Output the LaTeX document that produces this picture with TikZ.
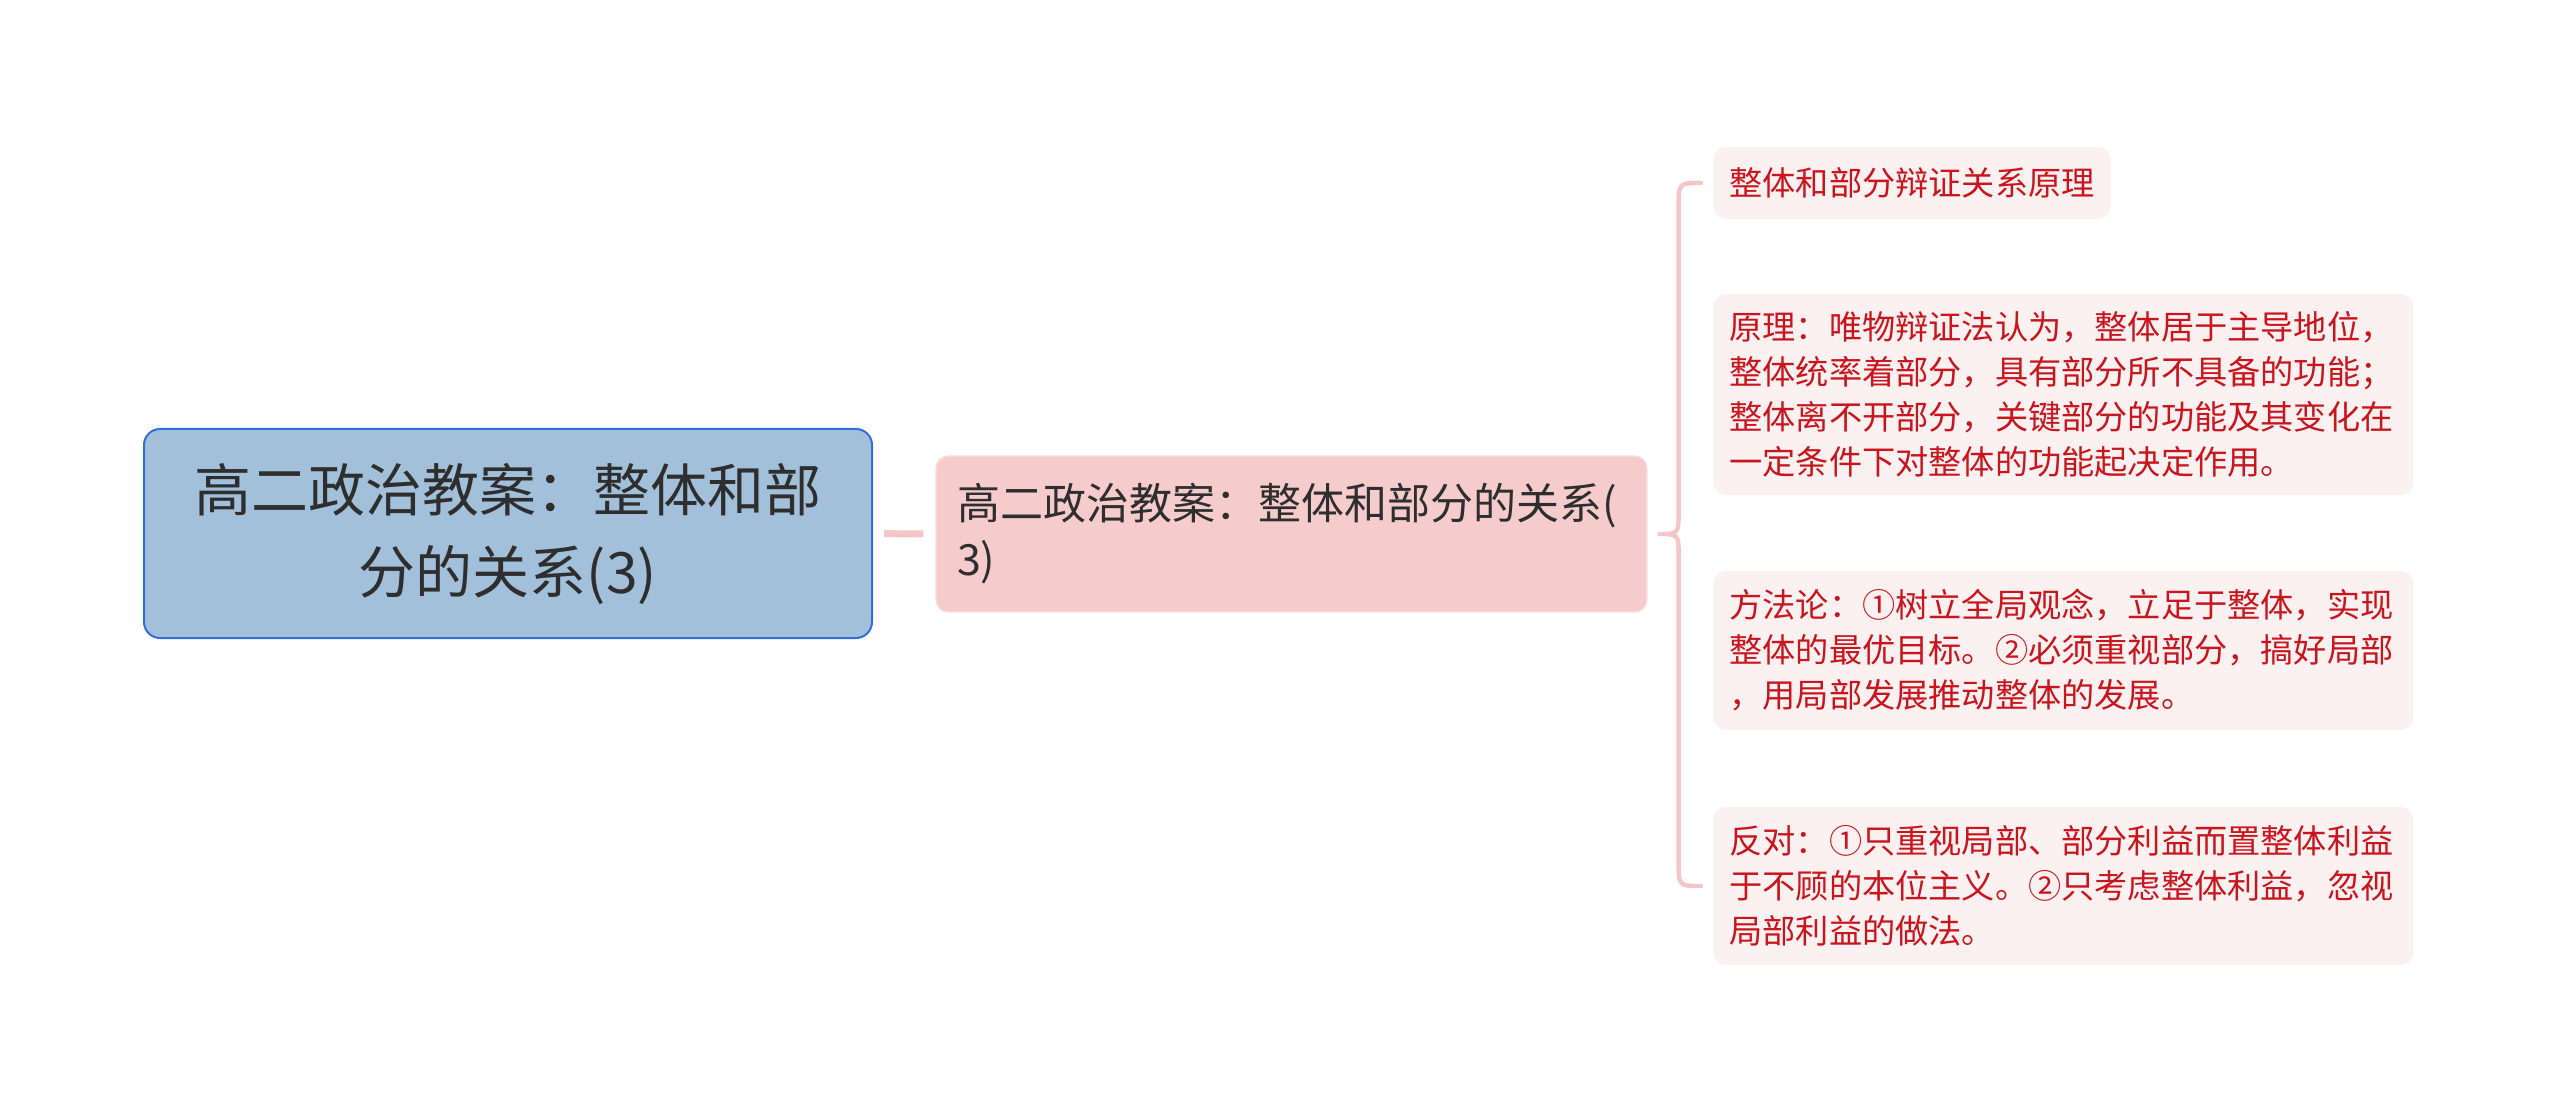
\documentclass[tikz,border=0pt]{standalone}
\usepackage{fontspec}
\setmainfont{Noto Sans CJK SC}
\usetikzlibrary{calc}
\definecolor{rootfill}{HTML}{A3C0DB}
\definecolor{rootline}{HTML}{2F6FD6}
\definecolor{midfill}{HTML}{F5CBCC}
\definecolor{midline}{HTML}{F8E1E1}
\definecolor{leaffill}{HTML}{FCF1F1}
\definecolor{leaftext}{HTML}{C9151E}
\definecolor{linkpink}{HTML}{F3C6C7}
\definecolor{darktext}{HTML}{2E2E2E}

\begin{document}
\begin{tikzpicture}[x=0.5pt,y=-0.5pt,
    rootbox/.style={draw=rootline,fill=rootfill,line width=1pt,rounded corners=8pt,
      minimum width=364pt,minimum height=104.5pt,align=center,text=darktext,font=\rootfontsize},
    midbox/.style={draw=midline,fill=midfill,line width=0.6pt,rounded corners=6pt,
      text width=334.5pt,inner xsep=10.5pt,minimum height=78pt,align=left,text=darktext,font=\midfontsize},
    leafbox/.style={fill=leaffill,rounded corners=6pt,inner xsep=8pt,anchor=west,
      align=left,text=leaftext,font=\leaffontsize},
    wideleaf/.style={leafbox,text width=334pt},
    link/.style={draw=linkpink,line width=3.5pt,shorten <=5.5pt,shorten >=6pt},
    bracket/.style={draw=linkpink,line width=2.2pt,line cap=round}]
    \providecommand{\rootfontsize}{\fontsize{28.5pt}{41pt}\selectfont}
    \providecommand{\midfontsize}{\fontsize{21.5pt}{28pt}\selectfont}
    \providecommand{\leaffontsize}{\fontsize{16.6pt}{22.5pt}\selectfont}
    \pgfmathsetmacro{\leafx}{1713}
    \useasboundingbox (0,0) rectangle (2560,1112);
    % main topic and its child
    \node[rootbox] (root) at (508,533.5) {高二政治教案：整体和部\\分的关系(3)};
    \node[midbox] (mid) at (1291.5,534) {高二政治教案：整体和部分的关系(\\3)};
    \draw[link] (root) -- (mid);
    % leaves
    \node[leafbox,minimum height=36pt] (principle) at (\leafx,183) {整体和部分辩证关系原理};
    \node[wideleaf,minimum height=100.5pt] (theory) at (\leafx,394.5) {原理：唯物辩证法认为，整体居于主导地位，\\整体统率着部分，具有部分所不具备的功能；\\整体离不开部分，关键部分的功能及其变化在\\一定条件下对整体的功能起决定作用。};
    \node[wideleaf,minimum height=79.5pt] (method) at (\leafx,650.5) {方法论：①树立全局观念，立足于整体，实现\\整体的最优目标。②必须重视部分，搞好局部\\，用局部发展推动整体的发展。};
    \node[wideleaf,minimum height=79pt] (oppose) at (\leafx,886) {反对：①只重视局部、部分利益而置整体利益\\于不顾的本位主义。②只考虑整体利益，忽视\\局部利益的做法。};
    % brace
    \coordinate (bracetip) at ($(mid.east)+(10,0)$);
    \coordinate (bv) at ($(bracetip)+(21,0)$);
    \coordinate (bracetop) at ($(principle.west)+(-12,0)$);
    \coordinate (bracebot) at ($(oppose.west)+(-12,0)$);
    \draw[bracket] (bracetop) .. controls (bracetop -| bv) .. ($(bracetop -| bv)+(0,25)$)
      -- ($(bv)+(0,-22)$) .. controls (bv) .. (bracetip)
      .. controls (bv) .. ($(bv)+(0,22)$)
      -- ($(bracebot -| bv)+(0,-25)$) .. controls (bracebot -| bv) .. (bracebot);
\end{tikzpicture}
\end{document}
